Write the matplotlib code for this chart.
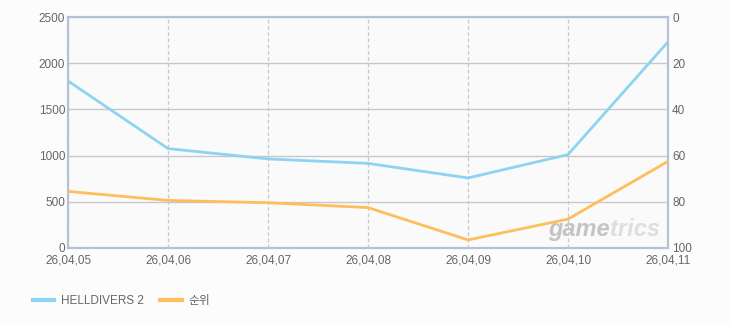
import matplotlib.pyplot as plt
import numpy as np

plt.rcParams['font.family'] = ['Liberation Sans', 'Noto Sans CJK KR']

dates = ['26,04,05', '26,04,06', '26,04,07', '26,04,08', '26,04,09', '26,04,10', '26,04,11']
players = [1808, 1076, 964, 916, 758, 1011, 2231]
rank = [75.5, 79.4, 80.4, 82.5, 96.5, 87.5, 62.5]

blue = '#8fd3f2'
orange = '#ffbe5c'
frame = '#b3c3d5'
txt = '#666666'

fig = plt.figure(figsize=(7.30, 3.25), dpi=100, facecolor='#fcfcfc')
ax = fig.add_axes([68 / 730, 1 - 248 / 325, 600 / 730, 231 / 325])
ax.set_facecolor('#fafafa')

x = np.arange(len(dates))
l1, = ax.plot(x, players, color=blue, lw=2, label='HELLDIVERS 2', zorder=3)
ax.set_xlim(0, len(dates) - 1)
ax.set_ylim(0, 2500)
ax.set_yticks(np.arange(0, 2501, 500))
ax.set_xticks(x)
ax.set_xticklabels(dates)
ax.grid(axis='y', color='#c8c8c8', lw=1)
ax.grid(axis='x', color='#c8c8c8', lw=0.9, ls=(0, (3, 2)))
ax.tick_params(length=0, colors=txt, labelsize=8.5, pad=2)
ax.tick_params(axis='x', pad=5)
ax.set_axisbelow(True)

# watermark
ax.text(0.903, 0.03, 'game', transform=ax.transAxes, ha='right', va='bottom',
        fontsize=17, fontweight='bold', style='italic', color='#c4c4c4', zorder=2)
ax.text(0.903, 0.03, 'trics', transform=ax.transAxes, ha='left', va='bottom',
        fontsize=17, fontweight='bold', style='italic', color='#dedede', zorder=2)

ax2 = ax.twinx()
l2, = ax2.plot(x, rank, color=orange, lw=2, label='순위', zorder=3)
ax2.set_ylim(100, 0)
ax2.set_yticks(np.arange(0, 101, 20))
ax2.tick_params(length=0, colors=txt, labelsize=8.5, pad=3)

for a in (ax, ax2):
    for s in a.spines.values():
        s.set_color(frame)
        s.set_linewidth(1.5)

leg = fig.legend(handles=[l1, l2], loc='lower left', bbox_to_anchor=(22 / 730, 7 / 325),
                 ncol=2, frameon=False, fontsize=8.5, handlelength=1.8,
                 handletextpad=0.6, columnspacing=1.4)
for t in leg.get_texts():
    t.set_color(txt)
for h in leg.get_lines():
    h.set_linewidth(3)

fig.savefig('out.png', dpi=100, facecolor=fig.get_facecolor())
